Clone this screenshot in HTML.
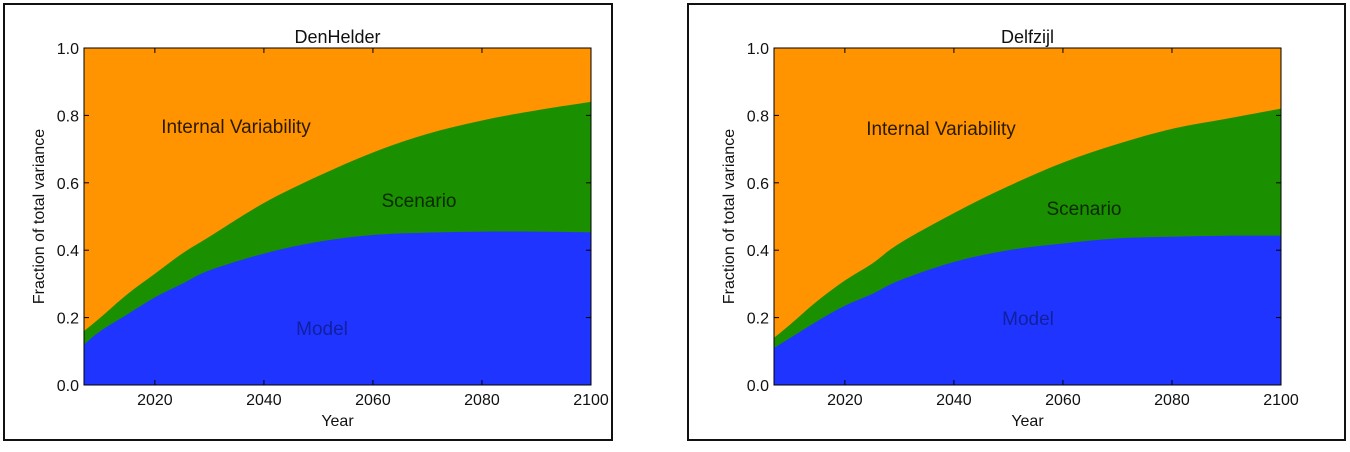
<!DOCTYPE html>
<html><head><meta charset="utf-8"><style>
body{margin:0;background:#fff;width:1350px;height:447px;overflow:hidden}
svg text{font-family:"Liberation Sans","DejaVu Sans",sans-serif}
</style></head><body>
<svg id="s" width="1350" height="447" xmlns="http://www.w3.org/2000/svg">
<rect x="4" y="4" width="608" height="436" fill="none" stroke="#111" stroke-width="2"/>
<rect x="688" y="4" width="657" height="436" fill="none" stroke="#111" stroke-width="2"/>
</svg>
<script>
const years=[2007,2010,2015,2020,2025,2030,2040,2050,2060,2070,2080,2090,2100];
const denModel=[0.12,0.16,0.21,0.26,0.30,0.34,0.39,0.425,0.445,0.452,0.455,0.455,0.453];
const denTop=[0.16,0.20,0.27,0.33,0.39,0.44,0.54,0.62,0.69,0.745,0.785,0.815,0.84];
const delModel=[0.11,0.14,0.19,0.235,0.27,0.31,0.365,0.40,0.42,0.435,0.44,0.443,0.443];
const delTop=[0.14,0.18,0.25,0.31,0.36,0.42,0.51,0.59,0.66,0.715,0.76,0.79,0.82];
const xTicks=[2020,2040,2060,2080,2100];
const yTicks=[0.0,0.2,0.4,0.6,0.8,1.0];
const NS="http://www.w3.org/2000/svg";
const svg=document.getElementById('s');
function mk(t,a,p){const e=document.createElementNS(NS,t);for(const k in a)e.setAttribute(k,a[k]);(p||svg).appendChild(e);return e;}
function smooth(pts){
  let d='';
  for(let i=0;i<pts.length;i++){
    if(i===0){d+=' L'+pts[0][0]+','+pts[0][1];continue;}
    const p0=pts[Math.max(i-2,0)],p1=pts[i-1],p2=pts[i],p3=pts[Math.min(i+1,pts.length-1)];
    const c1=[p1[0]+(p2[0]-p0[0])/6,p1[1]+(p2[1]-p0[1])/6];
    const c2=[p2[0]-(p3[0]-p1[0])/6,p2[1]-(p3[1]-p1[1])/6];
    d+=' C'+c1[0]+','+c1[1]+' '+c2[0]+','+c2[1]+' '+p2[0]+','+p2[1];
  }
  return d;
}
function panel(key,title,x0,x1,model,top,lab){
  const y0=385,y1=48;
  const g=mk('g',{});
  
  
  const X=v=>x0+(v-2007)/(2100-2007)*(x1-x0);
  const Y=v=>y0-v*(y0-y1);
  const bg=mk('rect',{x:x0,y:y1,width:x1-x0,height:y0-y1,fill:'#ff9400'},g);
  
  
  let d='M'+X(years[0])+','+Y(0)+smooth(years.map((yr,i)=>[X(yr),Y(top[i])]))+' L'+X(2100)+','+Y(0)+'Z';
  const sc=mk('path',{d:d,fill:'#1a8f00'},g);
  
  
  d='M'+X(years[0])+','+Y(0)+smooth(years.map((yr,i)=>[X(yr),Y(model[i])]))+' L'+X(2100)+','+Y(0)+'Z';
  const md=mk('path',{d:d,fill:'#1f35ff'},g);
  
  
  const fr=mk('rect',{x:x0,y:y1,width:x1-x0,height:y0-y1,fill:'none',stroke:'#000','stroke-width':1},g);
  
  
  xTicks.forEach(v=>{
    mk('line',{x1:X(v),x2:X(v),y1:y0,y2:y0-5,stroke:'#000'},g);
    mk('line',{x1:X(v),x2:X(v),y1:y1,y2:y1+5,stroke:'#000'},g);
    const t=mk('text',{x:X(v),y:y0+20,'text-anchor':'middle','font-size':16,fill:'#111'},g);
    t.textContent=v;
    
    
  });
  yTicks.forEach(v=>{
    mk('line',{x1:x0,x2:x0+5,y1:Y(v),y2:Y(v),stroke:'#000'},g);
    mk('line',{x1:x1,x2:x1-5,y1:Y(v),y2:Y(v),stroke:'#000'},g);
    const t=mk('text',{x:x0-5,y:Y(v)+6,'text-anchor':'end','font-size':16,fill:'#111'},g);
    t.textContent=v.toFixed(1);
    
    
  });
  const tt=mk('text',{x:(x0+x1)/2,y:43,'text-anchor':'middle','font-size':18,fill:'#111'},g);
  tt.textContent=title;
  
  
  const xl=mk('text',{x:(x0+x1)/2,y:426,'text-anchor':'middle','font-size':16,fill:'#111'},g);
  xl.textContent='Year';
  
  
  const yl=mk('text',{x:0,y:0,'text-anchor':'middle','font-size':16,fill:'#111',transform:'translate('+(x0-40)+','+((y0+y1)/2)+') rotate(-90)'},g);
  yl.textContent='Fraction of total variance';
  
  
  const names=['Internal Variability','Scenario','Model'];
  const cols=['#2a1a00','#0a2a00','#1020a0'];
  const keys=['internal-variability-label','scenario-label','model-label'];
  lab.forEach((p,i)=>{
    const t=mk('text',{x:p[0],y:p[1],'text-anchor':'middle','font-size':19,fill:cols[i]},g);
    t.textContent=names[i];
    
    
  });
}
panel('denhelder','DenHelder',84,591,denModel,denTop,[[236,133],[419,207],[322,335]]);
panel('delfzijl','Delfzijl',774,1281,delModel,delTop,[[941,135],[1084,215],[1028,325]]);
</script>
</body></html>
